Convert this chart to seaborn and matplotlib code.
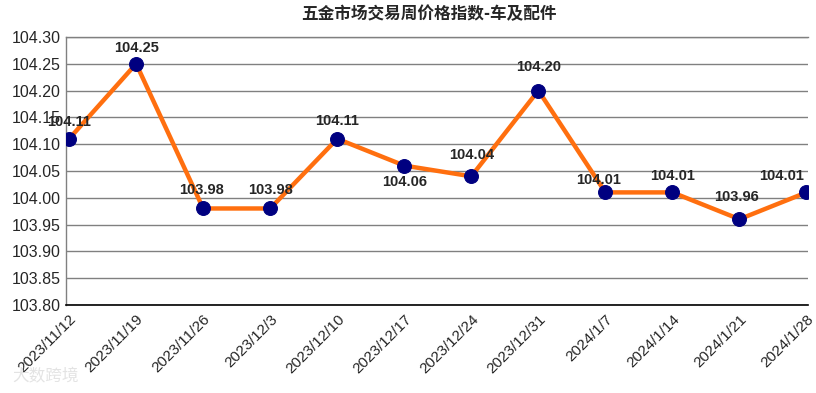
import pandas as pd
import matplotlib.pyplot as plt
import seaborn as sns

dates = ['2023/11/12', '2023/11/19', '2023/11/26', '2023/12/3', '2023/12/10', '2023/12/17',
         '2023/12/24', '2023/12/31', '2024/1/7', '2024/1/14', '2024/1/21', '2024/1/28']
index_values = [104.11, 104.25, 103.98, 103.98, 104.11, 104.06,
                104.04, 104.20, 104.01, 104.01, 103.96, 104.01]

# label offsets in points (dx, dy)
label_offsets = [(0, 12), (0, 11), (-1, 13), (0, 13), (0, 13), (0, -12),
                 (0, 15), (0, 17), (-5, 9), (0, 12), (-2, 16), (-18, 12)]

sns.set_style('white')
plt.rcParams['font.family'] = ['Noto Sans CJK SC', 'DejaVu Sans']
latin = ['Liberation Sans', 'DejaVu Sans']

data = pd.DataFrame({'pos': range(len(dates)), 'value': index_values})

fig = plt.figure(figsize=(8.16, 3.93), dpi=100)
ax = fig.add_axes([0.081, 0.224, 0.909, 0.682])

ax.yaxis.grid(True, color='#808080', linewidth=1)
ax.set_axisbelow(True)
sns.lineplot(data=data, x='pos', y='value', ax=ax, color='#FF6F0F', linewidth=3.2,
             marker='o', markersize=10, markerfacecolor='#000080', markeredgecolor='#000080',
             zorder=3)

for i, v in enumerate(index_values):
    ax.annotate(f'{v:.2f}', (i, v), xytext=label_offsets[i], textcoords='offset points',
                ha='center', va='center', fontsize=10.5, fontweight='bold',
                family=latin, zorder=4)

ax.set_ylim(103.80, 104.30)
ax.set_yticks([103.80 + 0.05 * k for k in range(11)])
ax.set_yticklabels([f'{103.80 + 0.05 * k:.2f}' for k in range(11)],
                   family=latin, fontsize=11.5)
ax.set_xlim(-0.045, 11.02)
ax.set_xticks(range(len(dates)))
ax.set_xticklabels(dates, rotation=45, ha='right', rotation_mode='anchor',
                   family=latin, fontsize=11)
ax.tick_params(axis='x', direction='in', length=6, width=1, color='black', pad=5)
ax.tick_params(axis='y', length=0, pad=4)
ax.set_xlabel('')
ax.set_ylabel('')

for side in ['top', 'right', 'left']:
    ax.spines[side].set_color('#808080')
    ax.spines[side].set_linewidth(1)
ax.spines['right'].set_visible(False)
ax.spines['bottom'].set_color('black')
ax.spines['bottom'].set_linewidth(1.2)

fig.text(0.525, 0.963, '五金市场交易周价格指数-车及配件', ha='center', va='center',
         fontsize=12, fontweight='bold')
fig.text(0.015, 0.04, '大数跨境', fontsize=12, color='#d8d8d8', alpha=0.7, va='center')

fig.savefig('out.png', dpi=100)
